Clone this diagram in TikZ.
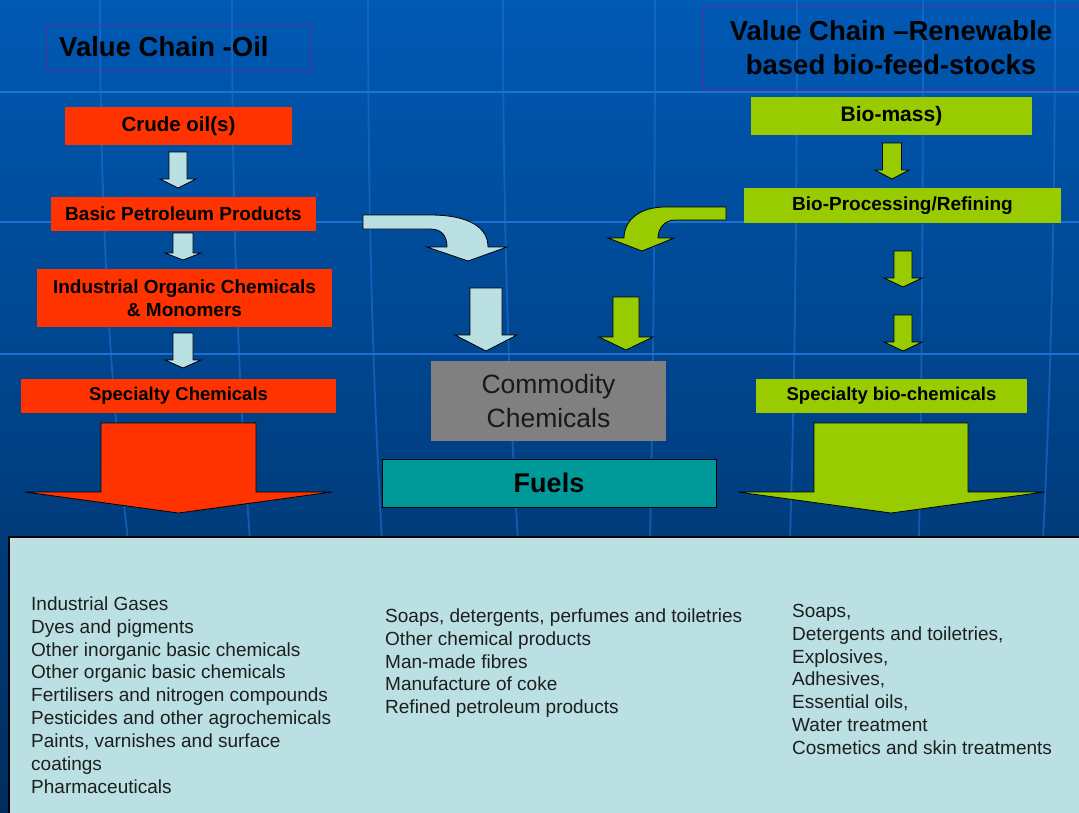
\documentclass[tikz,border=0pt]{standalone}
\usepackage{fontspec}
\setmainfont{Liberation Sans}
\definecolor{bgtop}{HTML}{0059B4}
\definecolor{bgbot}{HTML}{002D5E}
\definecolor{gridc}{HTML}{1E70D4}
\definecolor{myred}{HTML}{FF3300}
\definecolor{lgreen}{HTML}{99CC00}
\definecolor{lcyan}{HTML}{BBE0E3}
\definecolor{mygray}{HTML}{808080}
\definecolor{myteal}{HTML}{009999}
\definecolor{panel}{HTML}{BAE0E4}
\definecolor{titleb}{HTML}{553399}
\definecolor{paneltext}{HTML}{1E1E1E}
\newcommand{\myfs}[2]{\fontsize{#1}{#2}\selectfont}
\newcommand{\dnarrow}[7]{%
  \filldraw[fill=#7, blockarrow] ({#1-#2},#3) -- ({#1+#2},#3) -- ({#1+#2},#4) -- ({#1+#5},#4) -- (#1,#6) -- ({#1-#5},#4) -- ({#1-#2},#4) -- cycle;}
\begin{document}
\begin{tikzpicture}[x=1pt,y=-1pt,
  blockarrow/.style={draw=black, line width=0.8pt, line join=miter},
  gridh/.style={draw=gridc, line width=2.6pt},
  gridv/.style={draw=gridc, line width=1.8pt, opacity=0.6},
  boxbase/.style={rectangle, inner sep=0pt, align=center, text=black},
  redbox/.style={boxbase, fill=myred, font=\bfseries\myfs{19}{23}},
  greenbox/.style={boxbase, fill=lgreen, font=\bfseries\myfs{19}{23}},
  titlebox/.style={draw=titleb, line width=1pt},
  titletext/.style={inner sep=0pt, align=center, text=black, font=\bfseries\myfs{27.5}{34}},
  paneltxt/.style={anchor=north west, inner sep=0pt, align=left, text=paneltext, font=\myfs{19}{22.9}}
]
\useasboundingbox (0,0) rectangle (1079,812);
\clip (0,0) rectangle (1079,812);
% background
\shade[top color=bgtop, bottom color=bgbot] (0,0) rectangle (1079,812);
\foreach \yy in {92,222,354} \draw[gridh] (0,\yy) -- (1079,\yy);
\foreach \a/\b in {100/128,232/250,368/382,503/518,655/650,797/790,923/919,1055/1043}
  \draw[gridv] (\a,0) .. controls (\a,250) and ({(\a+\b)/2},420) .. (\b,540);

% titles
\draw[titlebox] (46,24) rectangle (310,71);
\node[titletext, anchor=west] (t1) at (59,47) {Value Chain -Oil};
\draw[titlebox] (702,6) rectangle (1090,89);
\node[titletext] (t2) at (891,48) {Value Chain –Renewable\\based bio-feed-stocks};

% oil chain
\node[redbox, minimum width=227pt, minimum height=38pt, font=\bfseries\myfs{20.5}{23}] (crude) at (178.5,126) {Crude oil(s)};
\node[redbox, minimum width=265pt, minimum height=34pt] (basic) at (183.5,214) {Basic Petroleum Products};
\node[redbox, minimum width=295pt, minimum height=58pt] (indus) at (184.5,298) {Industrial Organic Chemicals\\\& Monomers};
\node[redbox, minimum width=315pt, minimum height=34pt, font=\bfseries\myfs{18.5}{23}] (spec) at (178.5,396) {Specialty Chemicals};

\dnarrow{178}{9}{152}{179}{18}{188}{lcyan}
\dnarrow{183}{10}{233}{253}{18}{260}{lcyan}
\dnarrow{183}{10}{333}{360}{18}{368}{lcyan}
\dnarrow{178.5}{77.5}{423}{492}{153.5}{513}{myred}

% bio chain
\node[greenbox, minimum width=281pt, minimum height=38pt, font=\bfseries\myfs{21}{23}] (biomass) at (891.5,116) {Bio-mass)};
\node[greenbox, minimum width=317pt, minimum height=35pt] (bioproc) at (902.5,205.5) {Bio-Processing/Refining};
\node[greenbox, minimum width=271pt, minimum height=34pt, font=\bfseries\myfs{18.5}{23}] (specbio) at (891.5,396) {Specialty bio-chemicals};

\dnarrow{892}{9.5}{143}{170}{17}{179}{lgreen}
\dnarrow{903}{9}{251}{278}{19}{287}{lgreen}
\dnarrow{903}{9}{315}{342}{19}{351}{lgreen}
\dnarrow{891}{77}{423}{492}{153.5}{513}{lgreen}

% centre
\filldraw[fill=lcyan, blockarrow] (363,215) -- (430,215) .. controls (470,215) and (488,228) .. (488,247)
  -- (507,247) -- (468,261) -- (427,247) -- (447,247) .. controls (447,236) and (442,229) .. (430,229) -- (363,229) -- cycle;
\filldraw[fill=lgreen, blockarrow] (726,207) -- (665,207) .. controls (640,207) and (624,220) .. (624,238)
  -- (608,238) -- (642,251) -- (674,238) -- (658,238) .. controls (658,228) and (665,220) .. (675,220) -- (726,220) -- cycle;
\dnarrow{486}{16}{288}{335}{31}{351}{lcyan}
\dnarrow{626}{13}{297}{337}{27}{350}{lgreen}

\node[boxbase, fill=mygray, minimum width=235pt, minimum height=80pt, font=\myfs{26.5}{34}, text=black!90] (comm) at (548.5,401) {Commodity\\Chemicals};
\node[boxbase, fill=myteal, draw=black, line width=1pt, minimum width=334pt, minimum height=48pt, font=\bfseries\myfs{27}{30}] (fuels) at (549,483) {Fuels};

% bottom panel
\fill[panel] (9,537) rectangle (1090,820);
\draw[black, line width=1.2pt] (9,820) -- (9,537) -- (1090,537);

\node[paneltxt] (col1) at (31,595) {\rule{0pt}{15pt}Industrial Gases\\Dyes and pigments\\Other inorganic basic chemicals\\Other organic basic chemicals\\Fertilisers and nitrogen compounds\\Pesticides and other agrochemicals\\Paints, varnishes and surface\\coatings\\Pharmaceuticals};
\node[paneltxt] (col2) at (385,607) {\rule{0pt}{15pt}Soaps, detergents, perfumes and toiletries\\Other chemical products\\Man-made fibres\\Manufacture of coke\\Refined petroleum products};
\node[paneltxt] (col3) at (792,602) {\rule{0pt}{15pt}Soaps,\\Detergents and toiletries,\\Explosives,\\Adhesives,\\Essential oils,\\Water treatment\\Cosmetics and skin treatments};
\end{tikzpicture}
\end{document}
